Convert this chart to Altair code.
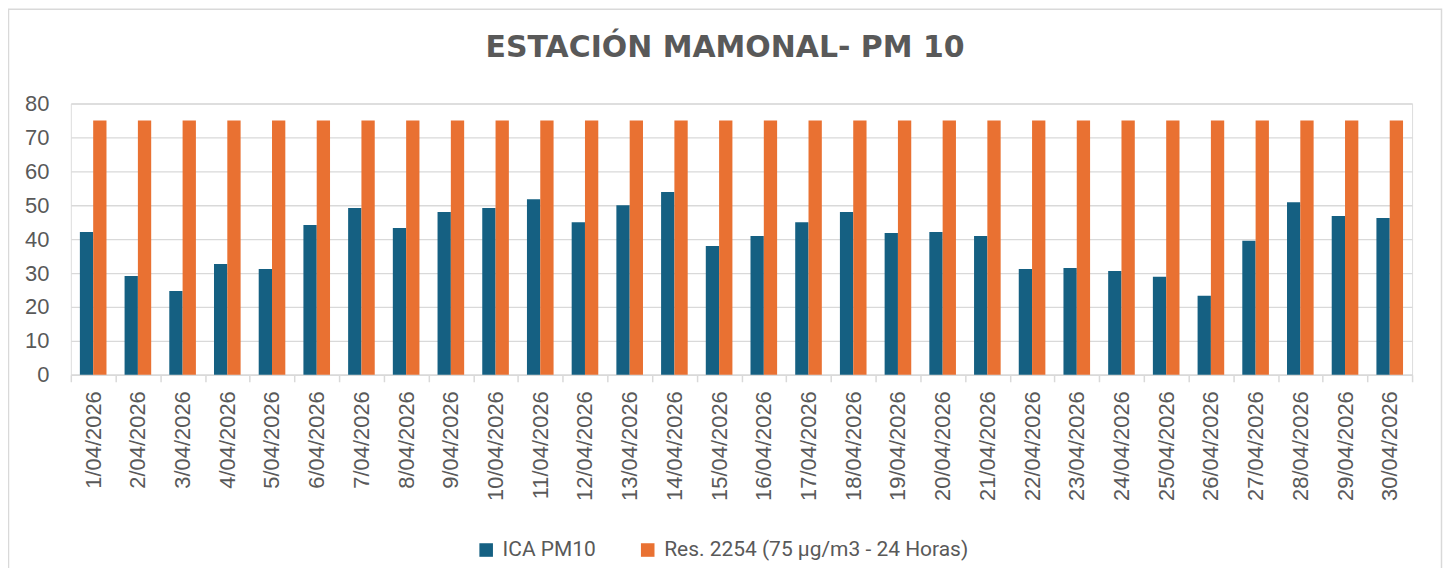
import altair as alt
import pandas as pd

titulo = "ESTACIÓN MAMONAL- PM 10"
fechas = [
    "1/04/2026", "2/04/2026", "3/04/2026", "4/04/2026", "5/04/2026",
    "6/04/2026", "7/04/2026", "8/04/2026", "9/04/2026", "10/04/2026",
    "11/04/2026", "12/04/2026", "13/04/2026", "14/04/2026", "15/04/2026",
    "16/04/2026", "17/04/2026", "18/04/2026", "19/04/2026", "20/04/2026",
    "21/04/2026", "22/04/2026", "23/04/2026", "24/04/2026", "25/04/2026",
    "26/04/2026", "27/04/2026", "28/04/2026", "29/04/2026", "30/04/2026",
]
ica_pm10 = [
    42.1, 29.1, 24.7, 32.7, 31.2, 44.2, 49.2, 43.3, 48.0, 49.2,
    51.8, 45.0, 50.0, 53.9, 38.0, 40.9, 45.0, 48.0, 41.8, 42.1,
    40.9, 31.2, 31.5, 30.6, 28.9, 23.3, 39.5, 50.9, 46.8, 46.2,
]
res_2254 = [
    75, 75, 75, 75, 75, 75, 75, 75, 75, 75,
    75, 75, 75, 75, 75, 75, 75, 75, 75, 75,
    75, 75, 75, 75, 75, 75, 75, 75, 75, 75,
]
series = ["ICA PM10", "Res. 2254 (75 µg/m3 - 24 Horas)"]
colores = ["#156082", "#E97132"]
y_ticks = [0, 10, 20, 30, 40, 50, 60, 70, 80]

rows = []
for f, a, b in zip(fechas, ica_pm10, res_2254):
    rows.append({"fecha": f, "serie": series[0], "valor": a})
    rows.append({"fecha": f, "serie": series[1], "valor": b})
df = pd.DataFrame(rows)

TXT = "#595959"
GRID = "#D9D9D9"

bars = alt.Chart(df).mark_bar().encode(
    x=alt.X(
        "fecha:N", sort=fechas,
        scale=alt.Scale(paddingInner=0, paddingOuter=0),
        axis=alt.Axis(
            title=None, labelAngle=-90, labelFontSize=22, labelColor=TXT,
            labelFont="Liberation Sans", domainColor=GRID, domainWidth=1.5,
            tickColor=GRID, tickWidth=1.5, tickBand="extent", tickSize=7,
            labelPadding=9, grid=False,
        ),
    ),
    xOffset=alt.XOffset(
        "serie:N", sort=series,
        scale=alt.Scale(paddingInner=0, paddingOuter=0.68),
    ),
    y=alt.Y(
        "valor:Q", scale=alt.Scale(domain=[0, 80], nice=False),
        axis=alt.Axis(
            values=y_ticks, title=None, domain=False, ticks=False,
            gridColor=GRID, gridWidth=1.3, labelFontSize=22, labelColor=TXT,
            labelFont="Liberation Sans", labelPadding=22,
        ),
    ),
    color=alt.Color(
        "serie:N", sort=series,
        scale=alt.Scale(domain=series, range=colores),
        legend=alt.Legend(
            title=None, orient="none", legendX=406, legendY=437,
            direction="horizontal", symbolType="square", symbolSize=185,
            symbolStrokeWidth=0, labelFontSize=21, labelFont="Roboto",
            labelColor=TXT, columnPadding=41, labelOffset=6, padding=0,
            labelLimit=500,
        ),
    ),
)

border = alt.Chart(pd.DataFrame({"k": [0]})).mark_rect(
    filled=False, stroke=GRID, strokeWidth=1.5
).encode(
    x=alt.value(-62.5), x2=alt.value(1374.5),
    y=alt.value(-94.5), y2=alt.value(520),
)

title_mark = alt.Chart(pd.DataFrame({"t": [titulo]})).mark_text(
    font="DejaVu Sans", fontSize=30, fontWeight="bold", color=TXT,
    align="center", baseline="alphabetic",
).encode(
    text="t:N", x=alt.value(656), y=alt.value(-47),
)

chart = alt.layer(border, bars, title_mark).properties(
    width=1345,
    height=272,
    autosize=alt.AutoSizeParams(type="none"),
    padding={"left": 63, "top": 95, "right": 31, "bottom": 193},
).configure_view(stroke=None).configure(background="white")

chart.save("out.html", embed_options={"renderer": "svg", "actions": False})
